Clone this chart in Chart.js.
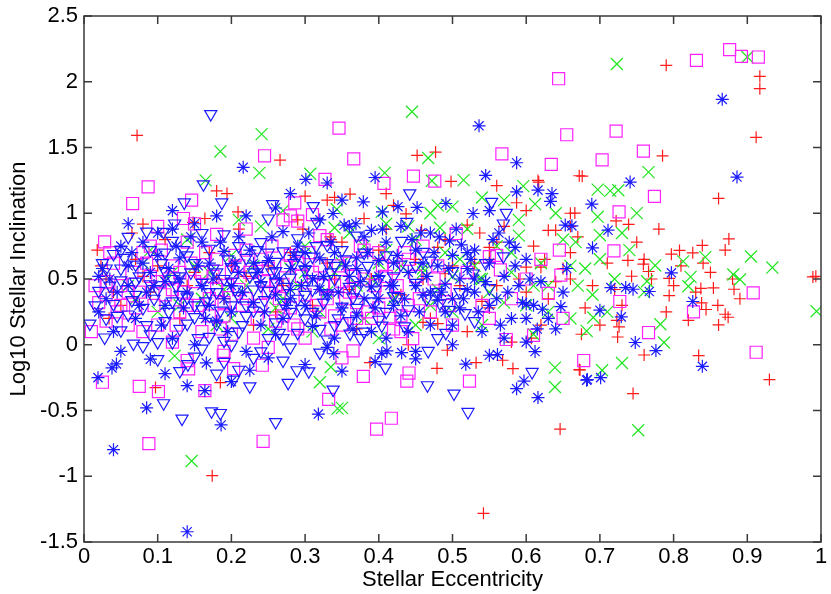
<!DOCTYPE html>
<html>
<head>
<meta charset="utf-8">
<script src="https://cdn.jsdelivr.net/npm/chart.js@4.4.1/dist/chart.umd.min.js"></script>
<style>
  html, body { margin: 0; padding: 0; background: #fff; }
  #plot { display: block; }
</style>
</head>
<body>
<canvas id="plot" width="831" height="594"></canvas>
<script>
// Log10 stellar inclination vs stellar eccentricity, five point sets

const xTickLabels = ["0", "0.1", "0.2", "0.3", "0.4", "0.5", "0.6", "0.7", "0.8", "0.9", "1"];
const yTickLabels = ["-1.5", "-1", "-0.5", "0", "0.5", "1", "1.5", "2", "2.5"];

// red +
const plusPts = [
  [0.072,1.592],[0.266,1.404],[0.452,1.44],[0.477,1.465],[0.498,1.242],[0.617,1.237],[0.672,1.285],
  [0.79,2.125],[0.917,2.041],[0.917,1.947],[0.912,1.577],[0.785,1.437],[0.676,1.282],[0.861,1.113],
  [0.666,1.001],[0.722,0.942],[0.739,0.915],[0.875,0.805],[0.839,0.755],[0.808,0.717],[0.826,0.699],
  [0.797,0.689],[0.738,0.641],[0.759,0.613],[0.766,0.557],[0.743,0.521],[0.794,0.504],[0.989,0.516],
  [0.993,0.52],[0.837,0.428],[0.854,0.432],[0.882,0.422],[0.794,0.374],[0.838,0.318],[0.844,0.268],
  [0.82,0.186],[0.87,0.232],[0.874,0.209],[0.861,0.151],[0.723,0.186],[0.726,0.136],[0.724,0.059],
  [0.76,-0.078],[0.834,-0.082],[0.675,0.08],[0.673,-0.192],[0.93,-0.265],[0.745,-0.371],[0.174,-0.996],
  [0.097,-0.326],[0.185,-0.288],[0.542,-1.282],[0.646,-0.641],[0.582,-0.181],[0.479,-0.179],[0.532,-0.136],
  [0.568,-0.118],[0.388,-0.136],[0.493,-0.042],[0.672,-0.189],[0.607,0.05],
  [0.08,0.917],[0.065,0.85],[0.18,1.17],[0.194,1.15],[0.209,1.01],[0.148,0.93],[0.164,0.96],[0.3,1.13],
  [0.297,0.88],[0.334,0.82],[0.34,1.12],[0.018,0.72],[0.023,0.6],[0.034,0.2],[0.2,0.6],
  [0.361,1.146],[0.41,1.15],[0.56,1.21],[0.616,1.25],[0.587,1.08],[0.66,1.0],[0.33,1.1],[0.335,0.8],
  [0.38,0.96],[0.437,0.995],[0.42,1.06],[0.458,0.87],[0.52,0.91],[0.537,0.85],[0.56,0.78],[0.48,0.74],
  [0.55,0.74],[0.63,0.87],[0.64,0.87],[0.66,0.9],[0.62,0.59],[0.625,0.65],[0.6,0.59],[0.55,0.65],
  [0.46,0.17],[0.48,0.16],[0.54,0.33],[0.49,0.54],
  [0.03,0.5],[0.05,0.3],[0.07,0.65],[0.09,0.4],[0.11,0.8],[0.13,0.2],[0.15,0.55],[0.17,0.7],[0.19,0.35],
  [0.21,0.88],[0.23,0.15],[0.25,0.6],[0.27,0.45],[0.29,0.95],[0.31,0.3],[0.33,0.62],[0.35,0.78],[0.37,0.12],
  [0.39,0.5],[0.41,0.88],[0.43,0.38],[0.45,0.65],[0.47,0.2],[0.49,0.8],[0.51,0.45],[0.53,0.62],[0.55,0.28],
  [0.57,0.9],[0.59,0.5],[0.61,0.75],[0.63,0.35],[0.65,0.58],[0.67,0.82],[0.69,0.45],[0.71,0.62],[0.73,0.3],
  [0.75,0.78],[0.77,0.5],[0.79,0.25],[0.81,0.6],[0.83,0.4],[0.85,0.55],[0.87,0.72],[0.89,0.35],[0.62,0.15],
  [0.58,0.02],[0.52,0.1],[0.44,0.0],[0.36,0.42],[0.26,0.25],[0.18,0.5],[0.1,0.6],[0.6,1.02],[0.66,0.7],
  [0.7,0.15],[0.78,0.88],[0.68,0.28],[0.64,0.48],
  [0.04,0.4],[0.08,0.52],[0.14,0.45],[0.22,0.52],[0.28,0.7],[0.34,0.5],[0.4,0.72],[0.46,0.5],[0.5,0.6],
  [0.56,0.45],[0.6,0.4],[0.66,0.5],[0.72,0.42],[0.76,0.65],[0.8,0.45],[0.84,0.62],[0.86,0.3],[0.88,0.5]
];

// green x
const crossPts = [
  [0.241,1.602],[0.185,1.47],[0.238,1.307],[0.307,1.3],[0.165,1.25],[0.445,1.772],[0.467,1.42],[0.408,1.307],
  [0.515,1.252],[0.723,2.135],[0.9,2.188],[0.766,1.313],[0.697,1.18],[0.714,1.17],[0.725,1.175],[0.75,1.001],
  [0.697,0.973],[0.7,0.833],[0.843,0.666],[0.905,0.671],[0.934,0.587],[0.813,0.634],[0.775,0.603],[0.881,0.534],
  [0.89,0.496],[0.823,0.516],[0.82,0.445],[0.764,0.483],[0.994,0.255],[0.691,0.207],[0.782,0.156],[0.787,0.017],
  [0.682,0.105],[0.73,-0.139],[0.703,-0.194],[0.146,-0.884],[0.344,-0.486],[0.32,-0.285],[0.335,-0.169],
  [0.123,-0.085],[0.35,-0.48],[0.639,-0.321],[0.639,-0.174],[0.752,-0.65],
  [0.472,1.247],[0.596,1.206],[0.54,1.12],[0.612,1.07],[0.343,1.03],[0.34,0.89],[0.404,1.01],[0.48,1.06],
  [0.5,1.05],[0.483,0.89],[0.59,0.83],[0.667,0.78],[0.41,0.92],[0.46,0.58],[0.537,0.5],
  [0.06,0.45],[0.08,0.62],[0.1,0.25],[0.12,0.55],[0.14,0.8],[0.16,0.35],[0.18,0.15],[0.2,0.68],[0.22,0.45],
  [0.24,0.9],[0.26,0.28],[0.28,0.58],[0.3,0.75],[0.31,0.1],[0.33,0.4],[0.35,0.62],[0.36,0.85],[0.38,0.2],
  [0.39,0.5],[0.41,0.72],[0.42,0.35],[0.44,0.9],[0.45,0.15],[0.46,0.55],[0.48,0.42],[0.49,0.7],[0.5,0.25],
  [0.52,0.88],[0.53,0.6],[0.55,0.4],[0.56,0.75],[0.58,0.55],[0.59,0.95],[0.6,0.3],[0.62,0.62],[0.63,0.45],
  [0.65,0.8],[0.66,0.2],[0.68,0.58],[0.69,0.38],[0.7,0.65],[0.72,0.5],[0.71,0.25],[0.64,1.0],[0.57,1.1],
  [0.47,1.0],[0.27,1.02],[0.21,0.95],[0.13,0.3],[0.09,0.72],[0.32,0.25],[0.4,0.05],[0.54,0.15],[0.61,0.08],
  [0.43,0.6],[0.37,0.45],[0.25,0.12],[0.19,0.42],[0.5,0.52],[0.57,0.32],[0.67,0.45],[0.74,0.72],[0.76,0.4],
  [0.73,0.85],[0.15,0.6],[0.29,0.45],
  [0.07,0.35],[0.11,0.48],[0.17,0.55],[0.23,0.6],[0.27,0.35],[0.34,0.55],[0.4,0.62],[0.47,0.3],[0.51,0.65],
  [0.54,0.5],[0.58,0.7],[0.61,0.45],[0.63,0.25],[0.66,0.6],[0.45,0.8],[0.38,0.75],[0.3,0.55],[0.2,0.2]
];

// blue *
const starPts = [
  [0.216,1.349],[0.301,1.257],[0.33,1.23],[0.395,1.272],[0.536,1.665],[0.587,1.384],[0.545,1.288],[0.866,1.866],
  [0.741,1.237],[0.886,1.275],[0.689,1.069],[0.711,0.871],[0.662,0.904],[0.69,0.737],[0.797,0.547],[0.767,0.405],
  [0.745,0.422],[0.735,0.435],[0.715,0.435],[0.826,0.329],[0.7,0.263],[0.729,0.212],[0.748,0.017],[0.776,-0.044],
  [0.839,-0.164],[0.683,-0.265],[0.701,-0.25],[0.14,-1.422],[0.04,-0.798],[0.085,-0.48],[0.186,-0.61],[0.318,-0.527],
  [0.14,-0.311],[0.164,-0.349],[0.019,-0.25],[0.038,-0.176],[0.044,-0.146],[0.09,-0.11],[0.166,-0.138],[0.339,-0.067],
  [0.225,-0.194],[0.616,-0.402],[0.587,-0.334],[0.597,-0.276],[0.518,-0.148],[0.45,-0.108],[0.431,-0.06],[0.411,-0.047],
  [0.404,-0.067],[0.395,-0.128],[0.612,-0.052],[0.561,-0.075],[0.682,-0.27],
  [0.587,1.163],[0.616,1.176],[0.635,1.15],[0.633,1.09],[0.379,1.087],[0.491,1.074],[0.452,1.044],[0.426,1.05],
  [0.405,1.01],[0.338,0.998],[0.528,0.998],[0.55,1.02],[0.353,0.91],[0.369,0.92],[0.39,0.87],[0.457,0.85],
  [0.482,0.82],[0.496,0.79],[0.512,0.76],[0.563,0.85],[0.577,0.78],[0.585,0.74],[0.653,0.91],[0.655,0.58],
  [0.6,0.2],[0.63,0.2],[0.6,0.31],[0.622,0.27],[0.647,0.29],[0.53,0.5],
  [0.02,0.52],[0.05,0.75],[0.08,0.62],[0.03,0.35],[0.06,0.45],[0.1,0.85],[0.11,0.3],[0.13,0.66],[0.15,0.92],
  [0.16,0.45],[0.18,0.18],[0.19,0.71],[0.21,0.55],[0.22,0.98],[0.23,0.32],[0.25,0.64],[0.26,0.08],[0.27,0.86],
  [0.28,0.42],[0.3,0.6],[0.31,0.14],[0.32,0.95],[0.33,0.38],[0.34,0.7],[0.36,0.52],[0.37,0.22],[0.38,0.82],
  [0.39,0.44],[0.4,0.64],[0.41,0.05],[0.42,0.3],[0.43,0.9],[0.44,0.55],[0.45,0.72],[0.46,0.38],[0.47,0.15],
  [0.48,0.6],[0.49,0.46],[0.5,0.68],[0.51,0.28],[0.52,0.58],[0.53,0.4],[0.54,0.1],[0.55,0.62],[0.56,0.35],
  [0.57,0.52],[0.58,0.2],[0.59,0.45],[0.6,0.65],[0.61,0.3],[0.62,0.48],[0.64,0.12],[0.65,0.4],[0.04,0.1],
  [0.07,0.2],[0.09,0.55],[0.12,0.05],[0.14,0.4],[0.17,0.62],[0.2,0.25],[0.22,-0.05],[0.24,0.48],[0.27,0.2],
  [0.29,0.75],[0.31,0.5],[0.33,-0.02],[0.35,0.28],[0.37,0.66],[0.39,0.1],[0.41,0.78],[0.43,0.22],[0.45,0.45],
  [0.47,0.85],[0.49,0.25],[0.51,0.5],[0.53,0.72],[0.55,0.3],[0.57,0.05],[0.02,0.25],[0.06,0.6],[0.1,0.68],
  [0.13,0.5],[0.16,0.78],[0.19,0.35],[0.21,0.82],[0.24,0.15],[0.26,0.38],[0.28,0.58],[0.3,0.3],[0.32,0.66],
  [0.34,0.05],[0.36,0.9],[0.38,0.35],[0.4,0.52],[0.42,0.62],[0.44,0.1],[0.46,0.62],[0.48,0.34],[0.5,0.15],
  [0.52,0.42],[0.06,0.92],[0.08,0.78],[0.12,0.88],[0.18,0.98],[0.26,1.04],[0.35,1.1],[0.28,1.15],[0.12,1.02],
  [0.05,-0.05],[0.15,0.0],[0.25,-0.1],[0.3,-0.15],[0.35,-0.2],[0.45,-0.05],[0.5,0.0],[0.55,-0.08],[0.6,0.02],
  [0.11,-0.22],[0.2,-0.28],
  [0.025,0.58],[0.045,0.4],[0.065,0.7],[0.075,0.3],[0.095,0.45],[0.105,0.15],[0.115,0.58],[0.135,0.28],
  [0.145,0.82],[0.155,0.6],[0.165,0.2],[0.175,0.5],[0.185,0.78],[0.195,0.1],[0.205,0.62],[0.215,0.4],
  [0.225,0.72],[0.235,0.55],[0.245,0.25],[0.255,0.82],[0.265,0.5],[0.275,0.3],[0.285,0.68],[0.295,0.45],
  [0.305,0.85],[0.315,0.22],[0.325,0.52],[0.335,0.78],[0.345,0.4],[0.355,0.6],[0.365,0.12],[0.375,0.48],
  [0.385,0.7],[0.395,0.28],[0.405,0.88],[0.415,0.45],[0.425,0.68],[0.435,0.35],[0.445,0.8],[0.455,0.25],
  [0.465,0.52],[0.475,0.7],[0.485,0.4],[0.495,0.58],[0.505,0.88],[0.515,0.35],[0.525,0.65],[0.535,0.25],
  [0.545,0.48],[0.555,0.8],[0.565,0.15],[0.575,0.4],[0.585,0.6],[0.595,0.32],[0.605,0.5],[0.615,0.12],
  [0.035,0.5],[0.085,0.4],[0.125,0.75],[0.17,0.3],[0.23,0.62],[0.28,0.35],[0.32,0.42],[0.37,0.58],
  [0.42,0.45],[0.47,0.4],[0.52,0.7],[0.11,0.48],[0.2,0.45],[0.3,0.7],[0.4,0.35],[0.5,0.35]
];

// magenta squares
const squarePts = [
  [0.245,1.437],[0.327,1.257],[0.087,1.2],[0.644,2.023],[0.346,1.648],[0.655,1.597],[0.366,1.414],[0.567,1.452],
  [0.634,1.371],[0.407,1.227],[0.447,1.282],[0.476,1.244],[0.831,2.163],[0.876,2.244],[0.892,2.193],[0.915,2.188],
  [0.722,1.625],[0.759,1.473],[0.703,1.406],[0.774,1.128],[0.726,1.011],[0.719,0.714],[0.908,0.394],[0.827,0.25],
  [0.727,0.329],[0.766,0.093],[0.912,-0.057],[0.678,-0.12],[0.088,-0.752],[0.243,-0.734],[0.332,-0.415],[0.075,-0.316],
  [0.101,-0.356],[0.164,-0.349],[0.025,-0.285],[0.142,-0.184],[0.189,-0.08],[0.203,-0.181],[0.242,-0.156],[0.397,-0.641],
  [0.417,-0.559],[0.523,-0.276],[0.379,-0.24],[0.438,-0.276],[0.441,-0.215],[0.365,-0.047],[0.573,0.04],
  [0.446,0.047],[0.61,0.072],
  [0.066,1.074],[0.146,1.1],[0.286,1.079],[0.28,0.98],[0.29,0.94],[0.31,0.99],[0.32,0.83],[0.028,0.782],[0.18,0.84],
  [0.135,0.96],[0.505,0.846],[0.55,0.67],[0.565,0.57],[0.62,0.65],[0.645,0.72],[0.647,0.53],[0.55,0.2],[0.65,0.2],
  [0.43,0.22],[0.63,0.39],
  [0.02,0.32],[0.03,0.18],[0.04,0.62],[0.05,0.45],[0.07,0.28],[0.08,0.7],[0.09,0.52],[0.1,0.15],[0.11,0.38],
  [0.12,0.6],[0.13,0.25],[0.14,0.78],[0.15,0.48],[0.16,0.1],[0.17,0.35],[0.18,0.65],[0.19,0.22],[0.2,0.55],
  [0.21,0.42],[0.22,0.72],[0.23,0.05],[0.24,0.3],[0.25,0.58],[0.26,0.18],[0.27,0.46],[0.28,0.68],[0.29,0.12],
  [0.3,0.38],[0.31,0.55],[0.32,0.25],[0.33,0.8],[0.34,0.45],[0.35,0.15],[0.36,0.62],[0.37,0.32],[0.38,0.5],
  [0.39,0.2],[0.4,0.7],[0.41,0.4],[0.42,0.58],[0.43,0.1],[0.44,0.3],[0.45,0.52],[0.46,0.75],[0.47,0.25],
  [0.48,0.6],[0.49,0.42],[0.5,0.15],[0.52,0.55],[0.54,0.3],[0.06,0.4],[0.08,0.1],[0.1,0.48],[0.12,0.02],
  [0.14,0.3],[0.16,0.55],[0.18,0.42],[0.2,0.08],[0.22,0.35],[0.24,0.65],[0.26,0.45],[0.28,0.28],[0.3,0.05],
  [0.32,0.6],[0.34,0.22],[0.36,0.4],[0.38,0.72],[0.4,0.28],[0.42,0.12],[0.44,0.65],[0.15,0.92],[0.22,0.88],
  [0.27,0.95],[0.1,0.9],[0.03,0.48],[0.05,0.3],[0.19,-0.05],[0.25,-0.02],[0.35,-0.1],[0.14,-0.12],[0.58,0.35],
  [0.6,0.5],[0.56,0.68],[0.01,0.1],
  [0.015,0.45],[0.035,0.7],[0.045,0.25],[0.065,0.55],[0.075,0.4],[0.085,0.62],[0.095,0.3],[0.105,0.72],
  [0.115,0.5],[0.125,0.15],[0.135,0.4],[0.145,0.62],[0.155,0.3],[0.165,0.7],[0.175,0.52],[0.185,0.12],
  [0.195,0.45],[0.205,0.68],[0.215,0.3],[0.225,0.55],[0.235,0.2],[0.245,0.48],[0.255,0.75],[0.265,0.35],
  [0.275,0.6],[0.285,0.15],[0.295,0.52],[0.305,0.7],[0.315,0.3],[0.325,0.45],[0.335,0.12],[0.345,0.6],
  [0.355,0.35],[0.365,0.52],[0.375,0.75],[0.385,0.25],[0.395,0.45],[0.405,0.6],[0.415,0.2],[0.425,0.45],
  [0.435,0.7],[0.455,0.35],[0.475,0.5],[0.495,0.3],[0.03,0.38],[0.06,0.15],[0.09,0.75],[0.13,0.55],
  [0.17,0.22],[0.21,0.6],[0.25,0.4],[0.29,0.62],[0.33,0.35],[0.37,0.2],[0.41,0.52],[0.12,0.42],[0.19,0.32],
  [0.27,0.22],[0.35,0.48]
];

// blue down triangles
const trianglePts = [
  [0.172,1.754],[0.162,1.22],[0.173,-0.506],[0.185,-0.519],[0.133,-0.562],[0.108,-0.445],[0.26,-0.588],[0.203,-0.265],
  [0.225,-0.316],[0.277,-0.29],[0.289,-0.194],[0.305,-0.202],[0.338,-0.341],[0.028,0.055],[0.067,0.009],[0.141,-0.148],
  [0.466,-0.308],[0.502,-0.371],[0.521,-0.511],[0.608,-0.207],[0.409,-0.174],[0.467,-0.047],
  [0.256,1.069],[0.187,1.082],[0.136,1.082],[0.311,1.054],[0.123,0.922],[0.108,0.858],[0.05,0.719],[0.008,0.161],
  [0.316,0.934],[0.25,0.96],[0.442,1.151],[0.553,1.087],[0.573,1.003],[0.569,0.922],[0.438,0.934],[0.46,0.706],
  [0.569,0.672],[0.528,0.542],[0.483,0.314],[0.496,0.265],[0.517,0.24],[0.426,0.364],[0.361,0.085],[0.404,0.146],
  [0.491,0.09],[0.431,0.79],
  [0.06,0.82],[0.12,0.79],[0.19,0.84],[0.24,0.78],[0.29,0.81],[0.33,0.76],[0.37,0.83],
  [0.04,0.69],[0.09,0.72],[0.14,0.68],[0.17,0.73],[0.22,0.66],[0.27,0.71],[0.31,0.67],[0.35,0.72],[0.41,0.68],[0.47,0.64],
  [0.03,0.58],[0.07,0.61],[0.11,0.56],[0.15,0.62],[0.2,0.59],[0.23,0.55],[0.26,0.63],[0.3,0.57],[0.34,0.6],[0.38,0.54],
  [0.43,0.61],[0.5,0.56],
  [0.05,0.49],[0.09,0.46],[0.13,0.52],[0.16,0.47],[0.19,0.5],[0.24,0.45],[0.28,0.51],[0.32,0.48],[0.36,0.44],[0.4,0.5],
  [0.45,0.47],[0.55,0.43],
  [0.02,0.41],[0.07,0.38],[0.1,0.42],[0.14,0.36],[0.18,0.4],[0.21,0.37],[0.25,0.41],[0.29,0.35],[0.33,0.39],[0.37,0.42],
  [0.42,0.37],[0.48,0.4],
  [0.04,0.31],[0.08,0.28],[0.12,0.33],[0.16,0.27],[0.2,0.3],[0.23,0.26],[0.27,0.32],[0.31,0.25],[0.35,0.29],[0.39,0.33],
  [0.44,0.27],
  [0.03,0.2],[0.06,0.23],[0.11,0.18],[0.15,0.21],[0.18,0.16],[0.22,0.22],[0.26,0.17],[0.3,0.2],[0.34,0.15],[0.4,0.19],
  [0.05,0.11],[0.09,0.08],[0.13,0.12],[0.17,0.06],[0.21,0.1],[0.25,0.05],[0.29,0.09],[0.33,0.04],[0.38,0.1],
  [0.08,-0.01],[0.12,0.02],[0.16,-0.03],[0.2,0.0],[0.24,-0.05],[0.28,-0.02],[0.32,-0.06],
  [0.1,-0.11],[0.15,-0.09],[0.19,-0.13],[0.23,-0.1],[0.27,-0.12],
  [0.13,-0.2],[0.18,-0.22],[0.21,-0.19],
  [0.035,0.45],[0.055,0.66],[0.075,0.52],[0.085,0.15],[0.095,0.35],[0.105,0.62],[0.115,0.25],[0.125,0.45],
  [0.135,0.72],[0.145,0.55],[0.155,0.05],[0.165,0.33],[0.175,0.58],[0.185,0.26],[0.195,0.65],[0.205,0.42],
  [0.215,0.15],[0.225,0.52],[0.235,0.72],[0.245,0.34],[0.255,0.55],[0.265,0.09],[0.275,0.44],[0.285,0.62],
  [0.295,0.27],[0.305,0.5],[0.315,0.75],[0.325,0.32],[0.335,0.55],[0.345,0.2],[0.355,0.65],[0.365,0.36],
  [0.375,0.05],[0.385,0.6],[0.395,0.42],[0.41,0.25],[0.42,0.52],[0.435,0.14],[0.45,0.6],[0.465,0.35],
  [0.48,0.05],[0.51,0.4],[0.53,0.18],[0.545,0.62],[0.015,0.3],[0.025,0.62],[0.045,0.22],[0.065,0.34],
  [0.085,0.86],[0.1,0.02],[0.12,0.5],[0.14,0.16],[0.16,0.85],[0.17,0.4],[0.19,0.03],[0.21,0.75],[0.22,0.3],
  [0.24,0.6],[0.26,0.48],[0.27,0.05],[0.29,0.68],[0.31,0.42],[0.32,0.12],[0.34,0.5],[0.36,0.18],[0.38,0.7],
  [0.05,0.58],[0.11,0.7],[0.18,0.55],[0.23,0.42],[0.28,0.25],[0.33,0.62],[0.37,0.28],[0.13,0.38],[0.2,0.48],
  [0.25,0.7],[0.3,0.38],[0.07,0.48],[0.15,0.3],[0.26,0.56]
];

const toXY = pts => pts.map(p => ({ x: p[0], y: p[1] }));

const FONT = "'Liberation Sans', Arial, Helvetica, sans-serif";

// inward ticks on all four sides plus the frame and axis titles
const framePlugin = {
  id: "frame",
  afterDraw(chart) {
    const ctx = chart.ctx;
    const a = chart.chartArea;
    const xs = chart.scales.x;
    const ys = chart.scales.y;
    const len = 8;

    ctx.save();
    ctx.strokeStyle = "#3a3a3a";
    ctx.lineWidth = 1.5;
    ctx.beginPath();
    xs.ticks.forEach(t => {
      const px = xs.getPixelForValue(t.value);
      ctx.moveTo(px, a.bottom);
      ctx.lineTo(px, a.bottom - len);
      ctx.moveTo(px, a.top);
      ctx.lineTo(px, a.top + len);
    });
    ys.ticks.forEach(t => {
      const py = ys.getPixelForValue(t.value);
      ctx.moveTo(a.left, py);
      ctx.lineTo(a.left + len, py);
      ctx.moveTo(a.right, py);
      ctx.lineTo(a.right - len, py);
    });
    ctx.stroke();
    ctx.strokeRect(a.left, a.top, a.right - a.left, a.bottom - a.top);

    ctx.fillStyle = "#000";
    ctx.font = "22px " + FONT;
    ctx.textAlign = "center";
    ctx.textBaseline = "alphabetic";
    ctx.fillText("Stellar Eccentricity", (a.left + a.right) / 2, 586);

    ctx.translate(25, (a.top + a.bottom) / 2);
    ctx.rotate(-Math.PI / 2);
    ctx.fillText("Log10 Stellar Inclination", 0, 0);
    ctx.restore();
  }
};

const ds = (label, pts, style, color, radius, order, rotation) => ({
  label: label,
  data: toXY(pts),
  pointStyle: style,
  pointRadius: radius,
  pointRotation: rotation || 0,
  pointBorderColor: color,
  pointBackgroundColor: "rgba(0,0,0,0)",
  pointBorderWidth: 1.2,
  borderColor: color,
  backgroundColor: "rgba(0,0,0,0)",
  showLine: false,
  order: order
});

new Chart(document.getElementById("plot"), {
  type: "scatter",
  data: {
    datasets: [
      ds("plus", plusPts, "cross", "#ff1a1a", 6, 5),
      ds("cross", crossPts, "crossRot", "#22e622", 8.5, 4),
      ds("square", squarePts, "rect", "#ff22ff", 8.5, 3),
      ds("star", starPts, "star", "#1a1aff", 6.5, 2),
      ds("triangle", trianglePts, "triangle", "#1a1aff", 7, 1, 180)
    ]
  },
  options: {
    responsive: false,
    animation: false,
    devicePixelRatio: 1,
    layout: { padding: { top: 16, right: 10, left: 0, bottom: 0 } },
    plugins: {
      legend: { display: false },
      tooltip: { enabled: false }
    },
    scales: {
      x: {
        type: "linear",
        min: 0,
        max: 1,
        ticks: {
          stepSize: 0.1,
          color: "#000",
          padding: 2,
          maxRotation: 0,
          font: { family: FONT, size: 22 },
          callback: (v, i) => xTickLabels[i]
        },
        grid: { display: false, drawTicks: false },
        border: { display: false },
        afterFit: s => { s.height = 52; s.paddingLeft = 0; s.paddingRight = 0; }
      },
      y: {
        type: "linear",
        min: -1.5,
        max: 2.5,
        ticks: {
          stepSize: 0.5,
          color: "#000",
          padding: 6,
          font: { family: FONT, size: 22 },
          callback: (v, i) => yTickLabels[i]
        },
        grid: { display: false, drawTicks: false },
        border: { display: false },
        afterFit: s => { s.width = 84; s.paddingTop = 0; s.paddingBottom = 0; }
      }
    }
  },
  plugins: [framePlugin]
});
</script>
</body>
</html>
